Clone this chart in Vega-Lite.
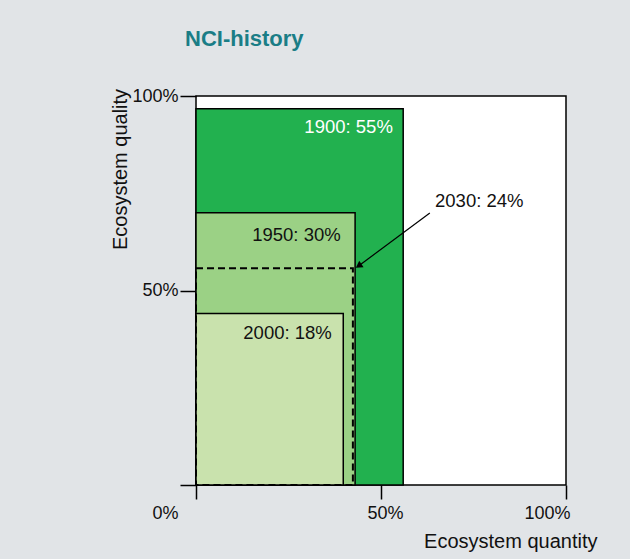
{
  "$schema": "https://vega.github.io/schema/vega-lite/v6.json",
  "width": 370,
  "height": 389,
  "autosize": "none",
  "padding": {"left": 196, "top": 96, "right": 64, "bottom": 74},
  "background": "#e1e4e7",
  "title": {
    "text": "NCI-history",
    "anchor": "start",
    "frame": "group",
    "dx": -11,
    "offset": 19,
    "baseline": "alphabetic",
    "font": "Liberation Sans, Arial, sans-serif",
    "fontSize": 22,
    "fontWeight": "bold",
    "color": "#1a7d86"
  },
  "config": {
    "view": {"fill": "white", "stroke": "black", "strokeWidth": 1.5},
    "axis": {
      "labelFont": "Liberation Sans, Arial, sans-serif",
      "labelFontSize": 18,
      "labelColor": "#111111",
      "titleFont": "Liberation Sans, Arial, sans-serif",
      "titleFontSize": 20,
      "titleFontWeight": "normal",
      "titleColor": "#111111",
      "tickColor": "black",
      "tickWidth": 1.5,
      "grid": false,
      "domain": false
    },
    "text": {"font": "Liberation Sans, Arial, sans-serif", "fontSize": 18.5}
  },
  "datasets": {
    "boxes": [
      {"year": "1900", "quantity": 0.56, "quality": 0.967},
      {"year": "1950", "quantity": 0.43, "quality": 0.70},
      {"year": "2000", "quantity": 0.398, "quality": 0.441}
    ],
    "future": [
      {"year": "2030", "quantity": 0.424, "quality": 0.557}
    ],
    "labels": [
      {"year": "1900", "text": "1900: 55%", "x": 0.532, "y": 0.92, "side": "right"},
      {"year": "1950", "text": "1950: 30%", "x": 0.391, "y": 0.643, "side": "right"},
      {"year": "2000", "text": "2000: 18%", "x": 0.367, "y": 0.391, "side": "right"},
      {"year": "2030", "text": "2030: 24%", "x": 0.646, "y": 0.73, "side": "left"}
    ],
    "arrow": [
      {"x": 0.632, "y": 0.699, "pt": "start"},
      {"x": 0.442, "y": 0.565, "pt": "tip"}
    ]
  },
  "layer": [
    {
      "data": {"name": "boxes"},
      "mark": {"type": "rect", "stroke": "black", "strokeWidth": 1.5},
      "encoding": {
        "x": {
          "field": "quantity",
          "type": "quantitative",
          "scale": {"domain": [0, 1], "nice": false},
          "axis": {
            "values": [0, 0.5, 1],
            "format": ".0%",
            "title": "Ecosystem quantity",
            "tickSize": 14,
            "labelPadding": 5,
            "labelOffset": 4,
            "labelExpr": "datum.value == 0 ? '' : datum.label",
            "titleX": 401,
            "titleY": 56,
            "titleAlign": "right",
            "titleBaseline": "middle"
          }
        },
        "x2": {"datum": 0},
        "y": {
          "field": "quality",
          "type": "quantitative",
          "scale": {"domain": [0, 1], "nice": false},
          "axis": {
            "values": [0, 0.5, 1],
            "format": ".0%",
            "title": "Ecosystem quality",
            "tickSize": 16,
            "labelPadding": 2,
            "labelOffset": {"condition": {"test": "datum.value == 0", "value": 28}, "value": 0},
            "titleX": -76,
            "titleY": 73,
            "titleAngle": 270,
            "titleAlign": "center",
            "titleBaseline": "middle"
          }
        },
        "y2": {"datum": 0},
        "fill": {
          "field": "year",
          "type": "nominal",
          "scale": {"domain": ["1900", "1950", "2000"], "range": ["#22b14f", "#9bd185", "#c9e2ad"]},
          "legend": null
        },
        "order": {"field": "year", "type": "ordinal"}
      }
    },
    {
      "data": {"name": "future"},
      "mark": {"type": "rect", "fill": null, "fillOpacity": 0, "stroke": "black", "strokeWidth": 2, "strokeDash": [7, 4]},
      "encoding": {
        "x": {"field": "quantity", "type": "quantitative"},
        "x2": {"datum": 0},
        "y": {"field": "quality", "type": "quantitative"},
        "y2": {"datum": 0}
      }
    },
    {
      "data": {"name": "arrow"},
      "mark": {"type": "line", "color": "black", "strokeWidth": 1.2},
      "encoding": {
        "x": {"field": "x", "type": "quantitative"},
        "y": {"field": "y", "type": "quantitative"}
      }
    },
    {
      "data": {"name": "arrow"},
      "transform": [{"filter": "datum.pt == 'tip'"}],
      "mark": {"type": "point", "shape": "triangle", "filled": true, "color": "black", "size": 60, "angle": 236, "opacity": 1},
      "encoding": {
        "x": {"field": "x", "type": "quantitative"},
        "y": {"field": "y", "type": "quantitative"}
      }
    },
    {
      "data": {"name": "labels"},
      "transform": [{"filter": "datum.side == 'right'"}],
      "mark": {"type": "text", "baseline": "middle", "align": "right"},
      "encoding": {
        "x": {"field": "x", "type": "quantitative"},
        "y": {"field": "y", "type": "quantitative"},
        "text": {"field": "text"},
        "color": {"condition": {"test": "datum.year == '1900'", "value": "white"}, "value": "#111111"}
      }
    },
    {
      "data": {"name": "labels"},
      "transform": [{"filter": "datum.side == 'left'"}],
      "mark": {"type": "text", "baseline": "middle", "align": "left", "color": "#111111"},
      "encoding": {
        "x": {"field": "x", "type": "quantitative"},
        "y": {"field": "y", "type": "quantitative"},
        "text": {"field": "text"}
      }
    }
  ]
}
